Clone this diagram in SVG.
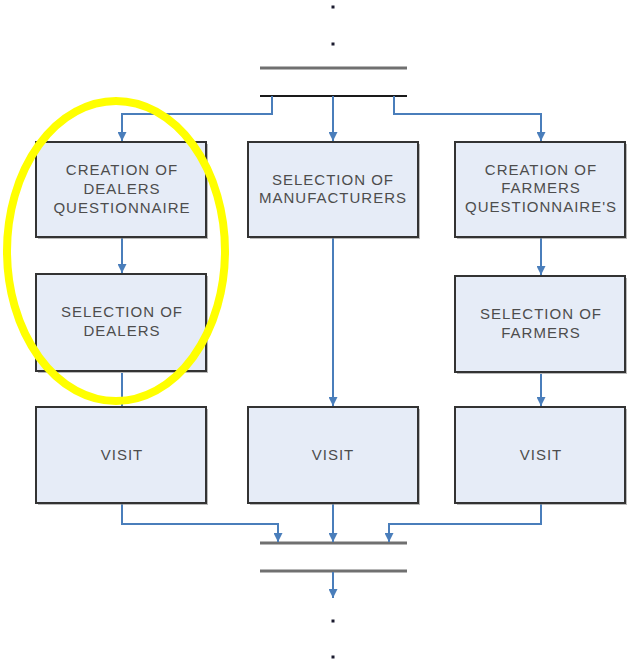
<svg xmlns="http://www.w3.org/2000/svg" width="628" height="662" viewBox="0 0 628 662">
  <defs>
    <marker id="arrow" viewBox="0 0 10 10" refX="10" refY="5" markerWidth="9" markerHeight="9" markerUnits="userSpaceOnUse" orient="auto">
      <path d="M0,0 L10,5 L0,10 z" fill="#4a7ebb"/>
    </marker>
    <style>
      .box { fill: #e6ecf7; stroke: #333333; stroke-width: 2; }
      .shadow { fill: #8c8c8c; opacity: 0.6; }
      .lbl { font-family: "Liberation Sans", Arial, sans-serif; font-size: 15px; letter-spacing: 1px; fill: #4d4d4d; text-anchor: middle; }
      .conn { fill: none; stroke: #4a7ebb; stroke-width: 2; }
      .bar { stroke: #707070; stroke-width: 3; }
      .dot { fill: #1a1a2e; }
    </style>
  </defs>

  <rect width="628" height="662" fill="#ffffff"/>

  <!-- continuation dots and synchronisation bars -->
  <g id="top-sync">
    <rect class="dot" x="331.5" y="5.5" width="3" height="3"/>
    <rect class="dot" x="331.5" y="42.5" width="3" height="3"/>
    <line class="bar" x1="260" y1="68" x2="407" y2="68"/>
    <line x1="260" y1="96" x2="407" y2="96" stroke="#1a1a1a" stroke-width="2"/>
  </g>
  <g id="bottom-sync">
    <line class="bar" x1="260" y1="543" x2="407" y2="543"/>
    <line class="bar" x1="260" y1="571" x2="407" y2="571"/>
    <rect class="dot" x="331.5" y="619.5" width="3" height="3"/>
    <rect class="dot" x="331.5" y="655.5" width="3" height="3"/>
  </g>

  <!-- connectors -->
  <g id="connectors">
    <path class="conn" d="M272,96 V114 H122 V141" marker-end="url(#arrow)"/>
    <path class="conn" d="M333,96 V141" marker-end="url(#arrow)"/>
    <path class="conn" d="M394,96 V114 H541 V141" marker-end="url(#arrow)"/>

    <path class="conn" d="M122,238 V273" marker-end="url(#arrow)"/>
    <path class="conn" d="M122,373 V407"/>
    <path class="conn" d="M333,238 V406" marker-end="url(#arrow)"/>
    <path class="conn" d="M541,238 V275" marker-end="url(#arrow)"/>
    <path class="conn" d="M541,374 V406" marker-end="url(#arrow)"/>

    <path class="conn" d="M122,504 V524 H278 V542" marker-end="url(#arrow)"/>
    <path class="conn" d="M333,504 V542" marker-end="url(#arrow)"/>
    <path class="conn" d="M541,504 V524 H389 V542" marker-end="url(#arrow)"/>
    <path class="conn" d="M333,572 V598" marker-end="url(#arrow)"/>
  </g>

  <!-- process boxes -->
  <g id="creation-dealers">
    <rect class="shadow" x="38" y="144" width="170" height="95"/>
    <rect class="box" x="36" y="142" width="170" height="95"/>
    <text class="lbl" x="122" y="175">CREATION OF</text>
    <text class="lbl" x="122" y="194">DEALERS</text>
    <text class="lbl" x="122" y="213">QUESTIONNAIRE</text>
  </g>
  <g id="selection-manufacturers">
    <rect class="shadow" x="250" y="144" width="170" height="95"/>
    <rect class="box" x="248" y="142" width="170" height="95"/>
    <text class="lbl" x="333" y="185">SELECTION OF</text>
    <text class="lbl" x="333" y="203">MANUFACTURERS</text>
  </g>
  <g id="creation-farmers">
    <rect class="shadow" x="457" y="144" width="170" height="95"/>
    <rect class="box" x="455" y="142" width="170" height="95"/>
    <text class="lbl" x="541" y="175">CREATION OF</text>
    <text class="lbl" x="541" y="193">FARMERS</text>
    <text class="lbl" x="541" y="212">QUESTIONNAIRE'S</text>
  </g>
  <g id="selection-dealers">
    <rect class="shadow" x="38" y="276" width="170" height="97"/>
    <rect class="box" x="36" y="274" width="170" height="97"/>
    <text class="lbl" x="122" y="317">SELECTION OF</text>
    <text class="lbl" x="122" y="336">DEALERS</text>
  </g>
  <g id="selection-farmers">
    <rect class="shadow" x="457" y="278" width="170" height="96"/>
    <rect class="box" x="455" y="276" width="170" height="96"/>
    <text class="lbl" x="541" y="319">SELECTION OF</text>
    <text class="lbl" x="541" y="338">FARMERS</text>
  </g>
  <g id="visit-dealers">
    <rect class="shadow" x="38" y="409" width="170" height="96"/>
    <rect class="box" x="36" y="407" width="170" height="96"/>
    <text class="lbl" x="122" y="460">VISIT</text>
  </g>
  <g id="visit-manufacturers">
    <rect class="shadow" x="250" y="409" width="170" height="96"/>
    <rect class="box" x="248" y="407" width="170" height="96"/>
    <text class="lbl" x="333" y="460">VISIT</text>
  </g>
  <g id="visit-farmers">
    <rect class="shadow" x="457" y="409" width="170" height="96"/>
    <rect class="box" x="455" y="407" width="170" height="96"/>
    <text class="lbl" x="541" y="460">VISIT</text>
  </g>

  <!-- highlight around the dealers branch -->
  <g id="highlight">
    <ellipse cx="116" cy="251" rx="109" ry="150" fill="none" stroke="#ffff00" stroke-width="8"/>
  </g>
</svg>
